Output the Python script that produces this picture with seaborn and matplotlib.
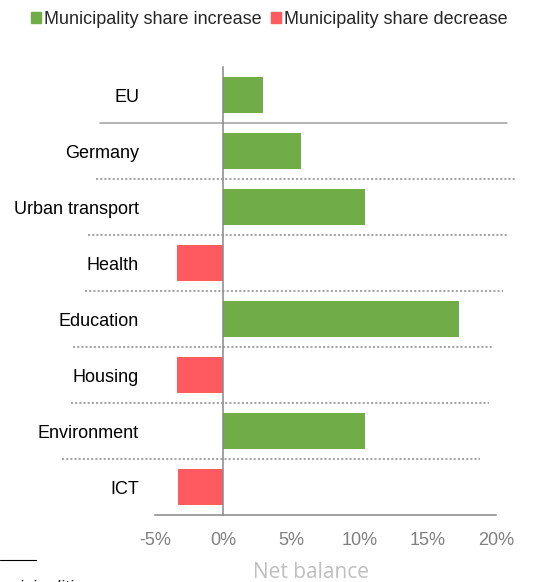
import matplotlib
matplotlib.use("Agg")
import matplotlib.pyplot as plt
import seaborn as sns
import pandas as pd
from matplotlib.patches import Patch
from matplotlib.lines import Line2D
from matplotlib.ticker import FixedLocator, FuncFormatter

# ------------------------------------------------------------
# data (net balance, % of municipalities)
# ------------------------------------------------------------
categories = ["EU", "Germany", "Urban transport", "Health",
              "Education", "Housing", "Environment", "ICT"]
net_balance = [2.9, 5.7, 10.4, -3.4, 17.3, -3.4, 10.4, -3.3]
series = ["Municipality share increase", "Municipality share decrease"]
x_ticks = [-5, 0, 5, 10, 15, 20]

GREEN = "#70AD47"
RED = "#FF5A5F"
GREY = "#888888"

df = pd.DataFrame({"category": categories, "value": net_balance})
df["series"] = [series[0] if v >= 0 else series[1] for v in df["value"]]

sns.set_style("white")
plt.rcParams["font.family"] = ["Liberation Sans", "DejaVu Sans"]

# ------------------------------------------------------------
# layout (pixels)
# ------------------------------------------------------------
W, H = 536, 582
AX_L, AX_R, AX_T, AX_B = 155, 495.7, 67, 515
# left/right pixel extents of the separator lines under each row
SEP_EXTENTS = [(100, 507), (96, 515), (88, 507), (85, 503),
               (73, 493), (71, 489), (62, 480)]

fig = plt.figure(figsize=(W / 100, H / 100), dpi=100)
ax = fig.add_axes([AX_L / W, 1 - AX_B / H, (AX_R - AX_L) / W, (AX_B - AX_T) / H])

sns.barplot(data=df, x="value", y="category", hue="series", hue_order=series,
            palette=[GREEN, RED], dodge=False, width=0.66, orient="h",
            saturation=1, linewidth=0, legend=False, ax=ax)

ax.set_xlim(-5, 20)
ax.set_ylim(len(categories) - 0.5, -0.5)
ax.set_xlabel("")
ax.set_ylabel("")

for side in ["top", "right"]:
    ax.spines[side].set_visible(False)
ax.spines["left"].set_position(("data", 0))
for side in ["left", "bottom"]:
    ax.spines[side].set_color(GREY)
    ax.spines[side].set_linewidth(1.1)

# y axis: labels at rows, small ticks at the row boundaries
ax.set_yticks(range(len(categories)))
ax.set_yticklabels(categories)
ax.yaxis.set_minor_locator(FixedLocator([i - 0.5 for i in range(len(categories) + 1)]))
ax.tick_params(axis="y", which="major", length=0, pad=60.5, labelsize=13, labelcolor="black")
ax.tick_params(axis="y", which="minor", length=4, width=1.1, color=GREY, direction="out")

# x axis
ax.xaxis.set_major_locator(FixedLocator(x_ticks))
ax.xaxis.set_major_formatter(FuncFormatter(lambda v, p: f"{v:.0f}%"))
ax.tick_params(axis="x", length=4, width=1.1, color=GREY, pad=8,
               labelsize=13, labelcolor="#7F7F7F")

# row separators: solid under EU, dotted for the rest
for i, (x0, x1) in enumerate(SEP_EXTENTS):
    y = i + 0.5
    xa = [(x0 - AX_L) / (AX_R - AX_L), (x1 - AX_L) / (AX_R - AX_L)]
    if i == 0:
        ax.plot(xa, [y, y], color="#A0A0A0", lw=1.1, transform=ax.get_yaxis_transform(),
                clip_on=False, zorder=0)
    else:
        ax.plot(xa, [y, y], color="#A6A6A6", lw=1.5, linestyle=(0, (1, 1)),
                transform=ax.get_yaxis_transform(), clip_on=False, zorder=0)

fig.text(311 / W, 1 - 573 / H, "Net balance", ha="center", va="center",
         fontsize=15, color="#BFBFBF", family=["Open Sans", "DejaVu Sans"])

handles = [Patch(color=GREEN, label=series[0]), Patch(color=RED, label=series[1])]
fig.legend(handles=handles, loc="upper left", bbox_to_anchor=(31 / W, 1 - 11 / H),
           ncol=2, frameon=False, fontsize=13, handlelength=0.55, handleheight=0.55,
           handletextpad=0.15, columnspacing=0.55, borderpad=0, borderaxespad=0)

# cut-off footnote at the bottom
fig.add_artist(Line2D([0, 36 / W], [1 - 560 / H, 1 - 560 / H], color="black",
                      lw=0.8, transform=fig.transFigure))
fig.text(-15 / W, 1 - 580 / H, "municipalities", style="italic", fontsize=13, va="top")

fig.savefig("out.png", dpi=100)
